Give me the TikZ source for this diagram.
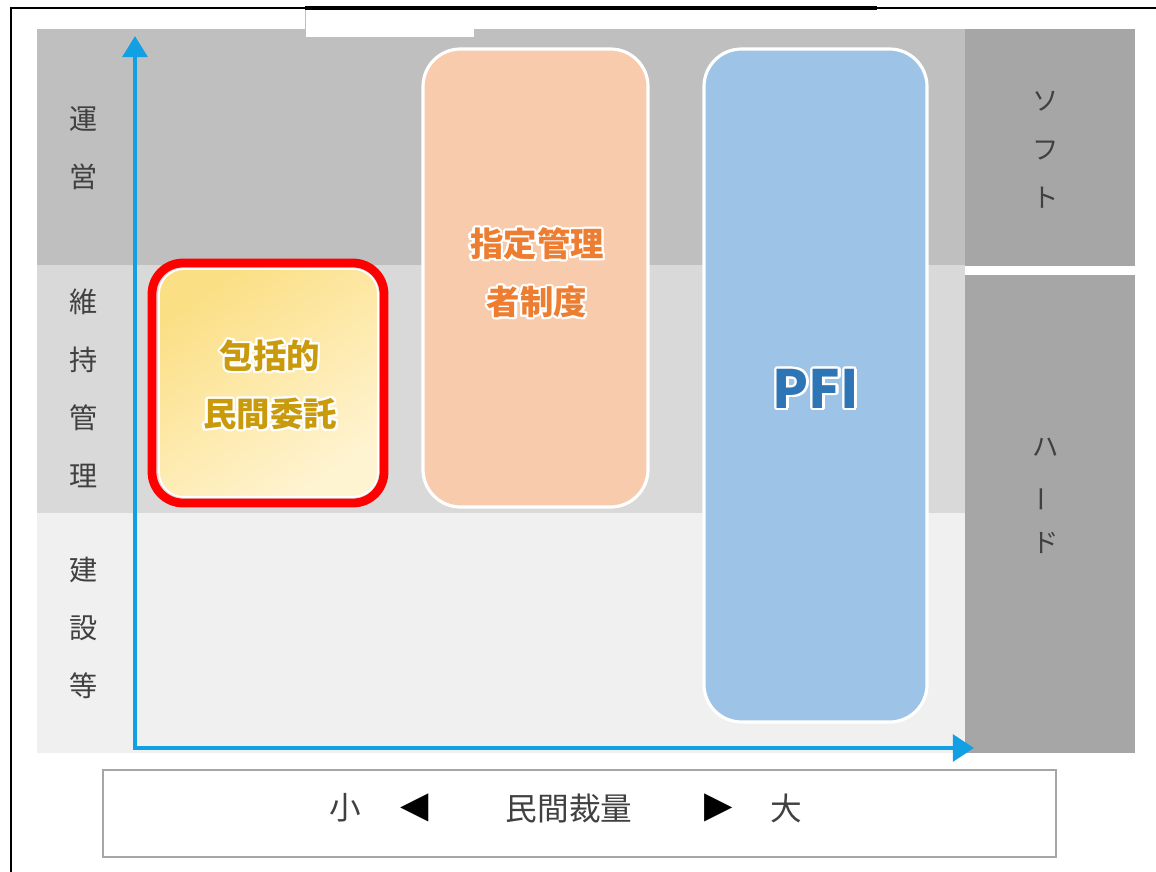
\documentclass[tikz,border=0pt]{standalone}
\usepackage{fontspec}
\setmainfont{Noto Sans CJK JP}
\newfontfamily\dejavu{DejaVu Sans}
\usepackage[copies]{contour}
\contourlength{1.3pt}
\contournumber{16}
\usetikzlibrary{arrows.meta,fit}
\definecolor{bandA}{HTML}{BFBFBF}
\definecolor{bandB}{HTML}{D9D9D9}
\definecolor{bandC}{HTML}{F0F0F0}
\definecolor{sideC}{HTML}{A6A6A6}
\definecolor{orangeFill}{HTML}{F8CBAD}
\definecolor{orangeText}{HTML}{ED7D31}
\definecolor{blueFill}{HTML}{9DC3E6}
\definecolor{blueText}{HTML}{2E75B6}
\definecolor{yellowA}{HTML}{FBDF85}
\definecolor{yellowB}{HTML}{FFF4D2}
\definecolor{goldText}{HTML}{C99B0C}
\definecolor{axisBlue}{HTML}{12A0E4}
\definecolor{labelText}{HTML}{404040}
\tikzset{
  bigbox/.style={inner sep=0pt, rounded corners=0.75cm, draw=white, line width=1.8pt},
  boxtext/.style={align=center, font=\fontsize{19}{33}\selectfont\bfseries},
  sidelabel/.style={align=center, text=labelText, font=\fontsize{16}{33}\selectfont},
  rightlabel/.style={align=center, text=labelText, font=\fontsize{15}{27.5}\selectfont},
  bottomtext/.style={text=labelText, font=\fontsize{18}{20}\selectfont},
  tri/.style={text=black, font=\dejavu\fontsize{21}{22}\selectfont},
  axisline/.style={draw=axisBlue, line width=2.6pt, line join=miter,
    {Triangle[length=12pt,width=14pt]}-{Triangle[length=12pt,width=15pt]}}
}
\begin{document}
\begin{tikzpicture}[x=0.02cm,y=-0.02cm]
\useasboundingbox (0,0) rectangle (1156,872);
\fill[white] (0,0) rectangle (1156,872);
% bands
\fill[bandA] (37,29) rectangle (965,265);
\fill[bandB] (37,265) rectangle (965,513);
\fill[bandC] (37,513) rectangle (965,753);
\fill[sideC] (965,29) rectangle (1135,266);
\fill[sideC] (965,275) rectangle (1135,753);
% frame
\draw[line width=0.9pt] (11,872) -- (11,8) -- (1156,8);
\fill[white] (305,9) rectangle (474,37);
\draw[gray!50, line width=0.4pt] (305,9) -- (305,37) -- (474,37);
\draw[line width=2.4pt] (305,8) -- (877,8);
% boxes
\node[bigbox, fill=orangeFill, fit={(423,49) (648,507)}] (shitei) {};
\node[bigbox, fill=blueFill, fit={(704,49) (927,722)}] (pfi) {};
\node[inner sep=0pt, rounded corners=0.62cm, draw=red, line width=5pt, fit={(152,263) (384,503)}] (hokatsu) {};
\node[inner sep=0pt, rounded corners=0.5cm, draw=white, line width=1pt,
  shading=axis, top color=yellowA, bottom color=yellowB, shading angle=35,
  fit={(159,269) (378,497)}] (hokatsuIn) {};
% box texts (white glow)
\node[boxtext, text=goldText] (hokatsuT) at (270,386) {\contour{white}{包括的}\\\contour{white}{民間委託}};
\node[boxtext, text=orangeText] (shiteiT) at (537,274) {\contour{white}{指定管理}\\\contour{white}{者制度}};
\node[text=blueText, font=\fontsize{30}{32}\selectfont\bfseries] (pfiT) at (816,390) {\contour{white}{PFI}};
% axes
\coordinate (ytip) at (135,36);
\coordinate (origin) at (135,748);
\coordinate (xtip) at (974,748);
\draw[axisline] (ytip) -- (origin) -- (xtip);
% side labels
\node[sidelabel] (unei) at (84,148) {運\\営};
\node[sidelabel] (iji) at (84,388) {維\\持\\管\\理};
\node[sidelabel] (kensetsu) at (84,628) {建\\設\\等};
\node[rightlabel] (soft) at (1046,150) {ソ\\フ\\ト};
\node[rightlabel] (hard) at (1046,496) {ハ\\\rotatebox[origin=c]{90}{ー}\\ド};
% bottom box
\node[inner sep=0pt, draw=gray!70, line width=0.8pt, fill=white, fit={(103,770) (1056,857)}] (scale) {};
\node[bottomtext] (small) at (345,808) {小};
\node[tri] (left) at (415,808) {◀};
\node[bottomtext] (minkan) at (569,808) {民間裁量};
\node[tri] (right) at (719,808) {▶};
\node[bottomtext] (big) at (786,808) {大};
\end{tikzpicture}
\end{document}
